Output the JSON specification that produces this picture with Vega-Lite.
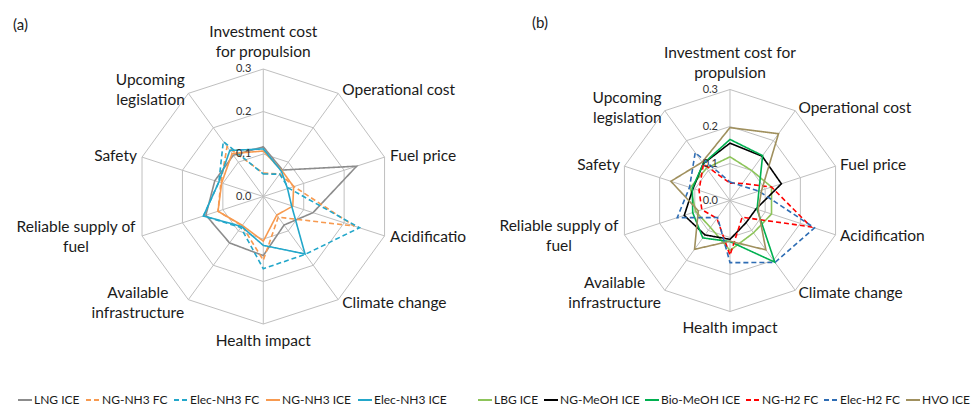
{
  "$schema": "https://vega.github.io/schema/vega-lite/v6.json",
  "padding": 0,
  "spacing": 0,
  "bounds": "flush",
  "config": {"view": {"stroke": null}, "font": "Lato", "title": {"font": "Lato", "fontWeight": "normal", "color": "#1a1a1a"}},
  "datasets": {
    "grid": [
      {"ring": 0.1, "axis": 0}, {"ring": 0.1, "axis": 1}, {"ring": 0.1, "axis": 2}, {"ring": 0.1, "axis": 3}, {"ring": 0.1, "axis": 4},
      {"ring": 0.1, "axis": 5}, {"ring": 0.1, "axis": 6}, {"ring": 0.1, "axis": 7}, {"ring": 0.1, "axis": 8}, {"ring": 0.1, "axis": 9},
      {"ring": 0.2, "axis": 0}, {"ring": 0.2, "axis": 1}, {"ring": 0.2, "axis": 2}, {"ring": 0.2, "axis": 3}, {"ring": 0.2, "axis": 4},
      {"ring": 0.2, "axis": 5}, {"ring": 0.2, "axis": 6}, {"ring": 0.2, "axis": 7}, {"ring": 0.2, "axis": 8}, {"ring": 0.2, "axis": 9},
      {"ring": 0.3, "axis": 0}, {"ring": 0.3, "axis": 1}, {"ring": 0.3, "axis": 2}, {"ring": 0.3, "axis": 3}, {"ring": 0.3, "axis": 4},
      {"ring": 0.3, "axis": 5}, {"ring": 0.3, "axis": 6}, {"ring": 0.3, "axis": 7}, {"ring": 0.3, "axis": 8}, {"ring": 0.3, "axis": 9}
    ],
    "ticks": [{"tick": "0.0", "ring": 0}, {"tick": "0.1", "ring": 0.1}, {"tick": "0.2", "ring": 0.2}, {"tick": "0.3", "ring": 0.3}],
    "labA": [
      {"axis": 0, "label": "Investment cost\nfor propulsion"},
      {"axis": 1, "label": "Operational cost"},
      {"axis": 2, "label": "Fuel price"},
      {"axis": 3, "label": "Acidificatio"},
      {"axis": 4, "label": "Climate change"},
      {"axis": 5, "label": "Health impact"},
      {"axis": 6, "label": "Available\ninfrastructure"},
      {"axis": 7, "label": "Reliable supply of\nfuel"},
      {"axis": 8, "label": "Safety"},
      {"axis": 9, "label": "Upcoming\nlegislation"}
    ],
    "labB": [
      {"axis": 0, "label": "Investment cost for\npropulsion"},
      {"axis": 1, "label": "Operational cost"},
      {"axis": 2, "label": "Fuel price"},
      {"axis": 3, "label": "Acidification"},
      {"axis": 4, "label": "Climate change"},
      {"axis": 5, "label": "Health impact"},
      {"axis": 6, "label": "Available\ninfrastructure"},
      {"axis": 7, "label": "Reliable supply of\nfuel"},
      {"axis": 8, "label": "Safety"},
      {"axis": 9, "label": "Upcoming\nlegislation"}
    ],
    "a": [
      {"fuel": "LNG ICE", "axis": 0, "score": 0.117}, {"fuel": "LNG ICE", "axis": 1, "score": 0.077}, {"fuel": "LNG ICE", "axis": 2, "score": 0.231}, {"fuel": "LNG ICE", "axis": 3, "score": 0.123}, {"fuel": "LNG ICE", "axis": 4, "score": 0.083},
      {"fuel": "LNG ICE", "axis": 5, "score": 0.139}, {"fuel": "LNG ICE", "axis": 6, "score": 0.135}, {"fuel": "LNG ICE", "axis": 7, "score": 0.142}, {"fuel": "LNG ICE", "axis": 8, "score": 0.12}, {"fuel": "LNG ICE", "axis": 9, "score": 0.12},
      {"fuel": "NG-NH3 FC", "axis": 0, "score": 0.055}, {"fuel": "NG-NH3 FC", "axis": 1, "score": 0.066}, {"fuel": "NG-NH3 FC", "axis": 2, "score": 0.076}, {"fuel": "NG-NH3 FC", "axis": 3, "score": 0.225}, {"fuel": "NG-NH3 FC", "axis": 4, "score": 0.06},
      {"fuel": "NG-NH3 FC", "axis": 5, "score": 0.15}, {"fuel": "NG-NH3 FC", "axis": 6, "score": 0.085}, {"fuel": "NG-NH3 FC", "axis": 7, "score": 0.112}, {"fuel": "NG-NH3 FC", "axis": 8, "score": 0.105}, {"fuel": "NG-NH3 FC", "axis": 9, "score": 0.145},
      {"fuel": "Elec-NH3 FC", "axis": 0, "score": 0.053}, {"fuel": "Elec-NH3 FC", "axis": 1, "score": 0.065}, {"fuel": "Elec-NH3 FC", "axis": 2, "score": 0.063}, {"fuel": "Elec-NH3 FC", "axis": 3, "score": 0.238}, {"fuel": "Elec-NH3 FC", "axis": 4, "score": 0.168},
      {"fuel": "Elec-NH3 FC", "axis": 5, "score": 0.17}, {"fuel": "Elec-NH3 FC", "axis": 6, "score": 0.09}, {"fuel": "Elec-NH3 FC", "axis": 7, "score": 0.148}, {"fuel": "Elec-NH3 FC", "axis": 8, "score": 0.11}, {"fuel": "Elec-NH3 FC", "axis": 9, "score": 0.16},
      {"fuel": "NG-NH3 ICE", "axis": 0, "score": 0.107}, {"fuel": "NG-NH3 ICE", "axis": 1, "score": 0.075}, {"fuel": "NG-NH3 ICE", "axis": 2, "score": 0.075}, {"fuel": "NG-NH3 ICE", "axis": 3, "score": 0.073}, {"fuel": "NG-NH3 ICE", "axis": 4, "score": 0.054},
      {"fuel": "NG-NH3 ICE", "axis": 5, "score": 0.105}, {"fuel": "NG-NH3 ICE", "axis": 6, "score": 0.084}, {"fuel": "NG-NH3 ICE", "axis": 7, "score": 0.112}, {"fuel": "NG-NH3 ICE", "axis": 8, "score": 0.103}, {"fuel": "NG-NH3 ICE", "axis": 9, "score": 0.125},
      {"fuel": "Elec-NH3 ICE", "axis": 0, "score": 0.112}, {"fuel": "Elec-NH3 ICE", "axis": 1, "score": 0.073}, {"fuel": "Elec-NH3 ICE", "axis": 2, "score": 0.06}, {"fuel": "Elec-NH3 ICE", "axis": 3, "score": 0.07}, {"fuel": "Elec-NH3 ICE", "axis": 4, "score": 0.167},
      {"fuel": "Elec-NH3 ICE", "axis": 5, "score": 0.115}, {"fuel": "Elec-NH3 ICE", "axis": 6, "score": 0.087}, {"fuel": "Elec-NH3 ICE", "axis": 7, "score": 0.148}, {"fuel": "Elec-NH3 ICE", "axis": 8, "score": 0.11}, {"fuel": "Elec-NH3 ICE", "axis": 9, "score": 0.134}
    ],
    "b": [
      {"fuel": "LBG ICE", "axis": 0, "score": 0.118}, {"fuel": "LBG ICE", "axis": 1, "score": 0.1}, {"fuel": "LBG ICE", "axis": 2, "score": 0.118}, {"fuel": "LBG ICE", "axis": 3, "score": 0.118}, {"fuel": "LBG ICE", "axis": 4, "score": 0.108},
      {"fuel": "LBG ICE", "axis": 5, "score": 0.135}, {"fuel": "LBG ICE", "axis": 6, "score": 0.09}, {"fuel": "LBG ICE", "axis": 7, "score": 0.097}, {"fuel": "LBG ICE", "axis": 8, "score": 0.113}, {"fuel": "LBG ICE", "axis": 9, "score": 0.108},
      {"fuel": "NG-MeOH ICE", "axis": 0, "score": 0.155}, {"fuel": "NG-MeOH ICE", "axis": 1, "score": 0.148}, {"fuel": "NG-MeOH ICE", "axis": 2, "score": 0.146}, {"fuel": "NG-MeOH ICE", "axis": 3, "score": 0.074}, {"fuel": "NG-MeOH ICE", "axis": 4, "score": 0.074},
      {"fuel": "NG-MeOH ICE", "axis": 5, "score": 0.105}, {"fuel": "NG-MeOH ICE", "axis": 6, "score": 0.115}, {"fuel": "NG-MeOH ICE", "axis": 7, "score": 0.13}, {"fuel": "NG-MeOH ICE", "axis": 8, "score": 0.105}, {"fuel": "NG-MeOH ICE", "axis": 9, "score": 0.123},
      {"fuel": "Bio-MeOH ICE", "axis": 0, "score": 0.165}, {"fuel": "Bio-MeOH ICE", "axis": 1, "score": 0.15}, {"fuel": "Bio-MeOH ICE", "axis": 2, "score": 0.082}, {"fuel": "Bio-MeOH ICE", "axis": 3, "score": 0.077}, {"fuel": "Bio-MeOH ICE", "axis": 4, "score": 0.206},
      {"fuel": "Bio-MeOH ICE", "axis": 5, "score": 0.111}, {"fuel": "Bio-MeOH ICE", "axis": 6, "score": 0.125}, {"fuel": "Bio-MeOH ICE", "axis": 7, "score": 0.106}, {"fuel": "Bio-MeOH ICE", "axis": 8, "score": 0.107}, {"fuel": "Bio-MeOH ICE", "axis": 9, "score": 0.123},
      {"fuel": "NG-H2 FC", "axis": 0, "score": 0.047}, {"fuel": "NG-H2 FC", "axis": 1, "score": 0.057}, {"fuel": "NG-H2 FC", "axis": 2, "score": 0.118}, {"fuel": "NG-H2 FC", "axis": 3, "score": 0.23}, {"fuel": "NG-H2 FC", "axis": 4, "score": 0.056},
      {"fuel": "NG-H2 FC", "axis": 5, "score": 0.148}, {"fuel": "NG-H2 FC", "axis": 6, "score": 0.06}, {"fuel": "NG-H2 FC", "axis": 7, "score": 0.08}, {"fuel": "NG-H2 FC", "axis": 8, "score": 0.088}, {"fuel": "NG-H2 FC", "axis": 9, "score": 0.122},
      {"fuel": "Elec-H2 FC", "axis": 0, "score": 0.05}, {"fuel": "Elec-H2 FC", "axis": 1, "score": 0.05}, {"fuel": "Elec-H2 FC", "axis": 2, "score": 0.082}, {"fuel": "Elec-H2 FC", "axis": 3, "score": 0.24}, {"fuel": "Elec-H2 FC", "axis": 4, "score": 0.207},
      {"fuel": "Elec-H2 FC", "axis": 5, "score": 0.168}, {"fuel": "Elec-H2 FC", "axis": 6, "score": 0.057}, {"fuel": "Elec-H2 FC", "axis": 7, "score": 0.15}, {"fuel": "Elec-H2 FC", "axis": 8, "score": 0.115}, {"fuel": "Elec-H2 FC", "axis": 9, "score": 0.16},
      {"fuel": "HVO ICE", "axis": 0, "score": 0.197}, {"fuel": "HVO ICE", "axis": 1, "score": 0.223}, {"fuel": "HVO ICE", "axis": 2, "score": 0.09}, {"fuel": "HVO ICE", "axis": 3, "score": 0.08}, {"fuel": "HVO ICE", "axis": 4, "score": 0.165},
      {"fuel": "HVO ICE", "axis": 5, "score": 0.11}, {"fuel": "HVO ICE", "axis": 6, "score": 0.163}, {"fuel": "HVO ICE", "axis": 7, "score": 0.09}, {"fuel": "HVO ICE", "axis": 8, "score": 0.168}, {"fuel": "HVO ICE", "axis": 9, "score": 0.128}
    ]
  },
  "hconcat": [
    {
      "width": 480,
      "height": 406,
      "title": {"text": "(a)", "anchor": "start", "frame": "group", "orient": "top", "offset": 0, "baseline": "middle", "fontSize": 15, "dx": 13, "dy": 40},
      "layer": [
        {
          "data": {"name": "grid"},
          "transform": [
            {"calculate": "datum.ring*sin(datum.axis*PI/5)", "as": "gx"},
            {"calculate": "datum.ring*cos(datum.axis*PI/5)", "as": "gy"}
          ],
          "mark": {"type": "line", "interpolate": "linear-closed", "stroke": "#BFBFBF", "strokeWidth": 1},
          "encoding": {
            "x": {"field": "gx", "type": "quantitative", "scale": {"domain": [-0.6195, 0.5099], "nice": false, "zero": false}, "axis": null},
            "y": {"field": "gy", "type": "quantitative", "scale": {"domain": [-0.4929, 0.4624], "nice": false, "zero": false}, "axis": null},
            "detail": {"field": "ring", "type": "nominal"},
            "order": {"field": "axis", "type": "quantitative"}
          }
        },
        {
          "data": {"name": "grid"},
          "transform": [
            {"filter": "datum.ring == 0.3"},
            {"calculate": "datum.ring*sin(datum.axis*PI/5)", "as": "gx"},
            {"calculate": "datum.ring*cos(datum.axis*PI/5)", "as": "gy"}
          ],
          "mark": {"type": "rule", "stroke": "#BFBFBF", "strokeWidth": 1},
          "encoding": {
            "x": {"field": "gx", "type": "quantitative"},
            "y": {"field": "gy", "type": "quantitative"},
            "x2": {"datum": 0},
            "y2": {"datum": 0}
          }
        },
        {
          "data": {"name": "a"},
          "transform": [
            {"calculate": "datum.score*sin(datum.axis*PI/5)", "as": "px"},
            {"calculate": "datum.score*cos(datum.axis*PI/5)", "as": "py"}
          ],
          "mark": {"type": "line", "interpolate": "linear-closed", "strokeWidth": 1.6},
          "encoding": {
            "x": {"field": "px", "type": "quantitative"},
            "y": {"field": "py", "type": "quantitative"},
            "order": {"field": "axis", "type": "quantitative"},
            "color": {
              "field": "fuel", "type": "nominal",
              "scale": {"domain": ["LNG ICE", "NG-NH3 FC", "Elec-NH3 FC", "NG-NH3 ICE", "Elec-NH3 ICE"], "range": ["#8C8C8C", "#F79A50", "#23A7CA", "#F79A50", "#23A7CA"]},
              "legend": {"orient": "none", "legendX": 17, "legendY": 392, "direction": "horizontal", "title": null, "symbolType": "stroke", "symbolSize": 196, "symbolStrokeWidth": 2, "labelFontSize": 12, "labelFont": "Lato", "labelColor": "#1a1a1a", "labelOffset": 1, "columnPadding": 2, "padding": 0, "labelLimit": 0}
            },
            "strokeDash": {
              "field": "fuel", "type": "nominal",
              "scale": {"domain": ["LNG ICE", "NG-NH3 FC", "Elec-NH3 FC", "NG-NH3 ICE", "Elec-NH3 ICE"], "range": [[1, 0], [5, 3], [5, 3], [1, 0], [1, 0]]},
              "legend": {"orient": "none", "legendX": 17, "legendY": 392, "direction": "horizontal", "title": null, "symbolType": "stroke", "symbolSize": 196, "symbolStrokeWidth": 2, "labelFontSize": 12, "labelFont": "Lato", "labelColor": "#1a1a1a", "labelOffset": 1, "columnPadding": 2, "padding": 0, "labelLimit": 0}
            }
          }
        },
        {
          "data": {"name": "ticks"},
          "mark": {"type": "text", "align": "right", "baseline": "middle", "dx": -12, "fontSize": 11, "color": "#333333"},
          "encoding": {
            "x": {"datum": 0, "type": "quantitative"},
            "y": {"field": "ring", "type": "quantitative"},
            "text": {"field": "tick"}
          }
        },
        {
          "data": {"name": "labA"},
          "transform": [
            {"filter": "datum.axis == 0"},
            {"calculate": "0.3*sin(datum.axis*PI/5)", "as": "lx"},
            {"calculate": "0.3*cos(datum.axis*PI/5)", "as": "ly"}
          ],
          "mark": {"type": "text", "align": "center", "baseline": "middle", "dy": -37, "fontSize": 15.5, "lineBreak": "\n", "lineHeight": 20, "color": "#1a1a1a"},
          "encoding": {"x": {"field": "lx", "type": "quantitative"}, "y": {"field": "ly", "type": "quantitative"}, "text": {"field": "label"}}
        },
        {
          "data": {"name": "labA"},
          "transform": [
            {"filter": "datum.axis == 5"},
            {"calculate": "0.3*sin(datum.axis*PI/5)", "as": "lx"},
            {"calculate": "0.3*cos(datum.axis*PI/5)", "as": "ly"}
          ],
          "mark": {"type": "text", "align": "center", "baseline": "middle", "dy": 17, "fontSize": 15.5, "color": "#1a1a1a"},
          "encoding": {"x": {"field": "lx", "type": "quantitative"}, "y": {"field": "ly", "type": "quantitative"}, "text": {"field": "label"}}
        },
        {
          "data": {"name": "labA"},
          "transform": [
            {"filter": "datum.axis >= 1 && datum.axis <= 4"},
            {"calculate": "0.31*sin(datum.axis*PI/5)", "as": "lx"},
            {"calculate": "0.31*cos(datum.axis*PI/5)", "as": "ly"}
          ],
          "mark": {"type": "text", "align": "left", "baseline": "middle", "dx": 1.5, "fontSize": 15.5, "color": "#1a1a1a"},
          "encoding": {"x": {"field": "lx", "type": "quantitative"}, "y": {"field": "ly", "type": "quantitative"}, "text": {"field": "label"}}
        },
        {
          "data": {"name": "labA"},
          "transform": [
            {"filter": "datum.axis == 8"},
            {"calculate": "0.31*sin(datum.axis*PI/5)", "as": "lx"},
            {"calculate": "0.31*cos(datum.axis*PI/5)", "as": "ly"}
          ],
          "mark": {"type": "text", "align": "right", "baseline": "middle", "dx": -1, "fontSize": 15.5, "color": "#1a1a1a"},
          "encoding": {"x": {"field": "lx", "type": "quantitative"}, "y": {"field": "ly", "type": "quantitative"}, "text": {"field": "label"}}
        },
        {
          "data": {"name": "labA"},
          "transform": [
            {"filter": "datum.axis == 9"},
            {"calculate": "0.31*sin(datum.axis*PI/5)", "as": "lx"},
            {"calculate": "0.31*cos(datum.axis*PI/5)", "as": "ly"}
          ],
          "mark": {"type": "text", "align": "right", "baseline": "middle", "dx": -1, "dy": -10, "fontSize": 15.5, "lineBreak": "\n", "lineHeight": 20, "color": "#1a1a1a"},
          "encoding": {"x": {"field": "lx", "type": "quantitative"}, "y": {"field": "ly", "type": "quantitative"}, "text": {"field": "label"}}
        },
        {
          "data": {"name": "labA"},
          "transform": [
            {"filter": "datum.axis == 6"},
            {"calculate": "0.31*sin(datum.axis*PI/5)", "as": "lx"},
            {"calculate": "0.31*cos(datum.axis*PI/5)", "as": "ly"}
          ],
          "mark": {"type": "text", "align": "center", "baseline": "middle", "dx": -48, "dy": -10, "fontSize": 15.5, "lineBreak": "\n", "lineHeight": 20, "color": "#1a1a1a"},
          "encoding": {"x": {"field": "lx", "type": "quantitative"}, "y": {"field": "ly", "type": "quantitative"}, "text": {"field": "label"}}
        },
        {
          "data": {"name": "labA"},
          "transform": [
            {"filter": "datum.axis == 7"},
            {"calculate": "0.31*sin(datum.axis*PI/5)", "as": "lx"},
            {"calculate": "0.31*cos(datum.axis*PI/5)", "as": "ly"}
          ],
          "mark": {"type": "text", "align": "center", "baseline": "middle", "dx": -62, "dy": -10, "fontSize": 15.5, "lineBreak": "\n", "lineHeight": 20, "color": "#1a1a1a"},
          "encoding": {"x": {"field": "lx", "type": "quantitative"}, "y": {"field": "ly", "type": "quantitative"}, "text": {"field": "label"}}
        }
      ]
    },
    {
      "width": 498,
      "height": 406,
      "title": {"text": "(b)", "anchor": "start", "frame": "group", "orient": "top", "offset": 0, "baseline": "middle", "fontSize": 15, "dx": 52, "dy": 38},
      "layer": [
        {
          "data": {"name": "grid"},
          "transform": [
            {"calculate": "datum.ring*sin(datum.axis*PI/5)", "as": "gx"},
            {"calculate": "datum.ring*cos(datum.axis*PI/5)", "as": "gy"}
          ],
          "mark": {"type": "line", "interpolate": "linear-closed", "stroke": "#BFBFBF", "strokeWidth": 1},
          "encoding": {
            "x": {"field": "gx", "type": "quantitative", "scale": {"domain": [-0.6757, 0.6703], "nice": false, "zero": false}, "axis": null},
            "y": {"field": "gy", "type": "quantitative", "scale": {"domain": [-0.5554, 0.5419], "nice": false, "zero": false}, "axis": null},
            "detail": {"field": "ring", "type": "nominal"},
            "order": {"field": "axis", "type": "quantitative"}
          }
        },
        {
          "data": {"name": "grid"},
          "transform": [
            {"filter": "datum.ring == 0.3"},
            {"calculate": "datum.ring*sin(datum.axis*PI/5)", "as": "gx"},
            {"calculate": "datum.ring*cos(datum.axis*PI/5)", "as": "gy"}
          ],
          "mark": {"type": "rule", "stroke": "#BFBFBF", "strokeWidth": 1},
          "encoding": {
            "x": {"field": "gx", "type": "quantitative"},
            "y": {"field": "gy", "type": "quantitative"},
            "x2": {"datum": 0},
            "y2": {"datum": 0}
          }
        },
        {
          "data": {"name": "b"},
          "transform": [
            {"calculate": "datum.score*sin(datum.axis*PI/5)", "as": "px"},
            {"calculate": "datum.score*cos(datum.axis*PI/5)", "as": "py"}
          ],
          "mark": {"type": "line", "interpolate": "linear-closed", "strokeWidth": 1.6},
          "encoding": {
            "x": {"field": "px", "type": "quantitative"},
            "y": {"field": "py", "type": "quantitative"},
            "order": {"field": "axis", "type": "quantitative"},
            "color": {
              "field": "fuel", "type": "nominal",
              "scale": {"domain": ["LBG ICE", "NG-MeOH ICE", "Bio-MeOH ICE", "NG-H2 FC", "Elec-H2 FC", "HVO ICE"], "range": ["#8DC45A", "#000000", "#00B050", "#FF0000", "#2E6DB4", "#A0905E"]},
              "legend": {"orient": "none", "legendX": -3, "legendY": 392, "direction": "horizontal", "title": null, "symbolType": "stroke", "symbolSize": 196, "symbolStrokeWidth": 2, "labelFontSize": 12, "labelFont": "Lato", "labelColor": "#1a1a1a", "labelOffset": 1, "columnPadding": 1, "padding": 0, "labelLimit": 0}
            },
            "strokeDash": {
              "field": "fuel", "type": "nominal",
              "scale": {"domain": ["LBG ICE", "NG-MeOH ICE", "Bio-MeOH ICE", "NG-H2 FC", "Elec-H2 FC", "HVO ICE"], "range": [[1, 0], [1, 0], [1, 0], [5, 3], [5, 3], [1, 0]]},
              "legend": {"orient": "none", "legendX": -3, "legendY": 392, "direction": "horizontal", "title": null, "symbolType": "stroke", "symbolSize": 196, "symbolStrokeWidth": 2, "labelFontSize": 12, "labelFont": "Lato", "labelColor": "#1a1a1a", "labelOffset": 1, "columnPadding": 1, "padding": 0, "labelLimit": 0}
            }
          }
        },
        {
          "data": {"name": "ticks"},
          "mark": {"type": "text", "align": "right", "baseline": "middle", "dx": -12, "fontSize": 11, "color": "#333333"},
          "encoding": {
            "x": {"datum": 0, "type": "quantitative"},
            "y": {"field": "ring", "type": "quantitative"},
            "text": {"field": "tick"}
          }
        },
        {
          "data": {"name": "labB"},
          "transform": [
            {"filter": "datum.axis == 0"},
            {"calculate": "0.3*sin(datum.axis*PI/5)", "as": "lx"},
            {"calculate": "0.3*cos(datum.axis*PI/5)", "as": "ly"}
          ],
          "mark": {"type": "text", "align": "center", "baseline": "middle", "dy": -37, "fontSize": 15.5, "lineBreak": "\n", "lineHeight": 20, "color": "#1a1a1a"},
          "encoding": {"x": {"field": "lx", "type": "quantitative"}, "y": {"field": "ly", "type": "quantitative"}, "text": {"field": "label"}}
        },
        {
          "data": {"name": "labB"},
          "transform": [
            {"filter": "datum.axis == 5"},
            {"calculate": "0.3*sin(datum.axis*PI/5)", "as": "lx"},
            {"calculate": "0.3*cos(datum.axis*PI/5)", "as": "ly"}
          ],
          "mark": {"type": "text", "align": "center", "baseline": "middle", "dy": 16, "fontSize": 15.5, "color": "#1a1a1a"},
          "encoding": {"x": {"field": "lx", "type": "quantitative"}, "y": {"field": "ly", "type": "quantitative"}, "text": {"field": "label"}}
        },
        {
          "data": {"name": "labB"},
          "transform": [
            {"filter": "datum.axis >= 1 && datum.axis <= 4"},
            {"calculate": "0.31*sin(datum.axis*PI/5)", "as": "lx"},
            {"calculate": "0.31*cos(datum.axis*PI/5)", "as": "ly"}
          ],
          "mark": {"type": "text", "align": "left", "baseline": "middle", "dx": 1, "fontSize": 15.5, "color": "#1a1a1a"},
          "encoding": {"x": {"field": "lx", "type": "quantitative"}, "y": {"field": "ly", "type": "quantitative"}, "text": {"field": "label"}}
        },
        {
          "data": {"name": "labB"},
          "transform": [
            {"filter": "datum.axis == 8"},
            {"calculate": "0.31*sin(datum.axis*PI/5)", "as": "lx"},
            {"calculate": "0.31*cos(datum.axis*PI/5)", "as": "ly"}
          ],
          "mark": {"type": "text", "align": "right", "baseline": "middle", "dx": -1, "fontSize": 15.5, "color": "#1a1a1a"},
          "encoding": {"x": {"field": "lx", "type": "quantitative"}, "y": {"field": "ly", "type": "quantitative"}, "text": {"field": "label"}}
        },
        {
          "data": {"name": "labB"},
          "transform": [
            {"filter": "datum.axis == 9"},
            {"calculate": "0.31*sin(datum.axis*PI/5)", "as": "lx"},
            {"calculate": "0.31*cos(datum.axis*PI/5)", "as": "ly"}
          ],
          "mark": {"type": "text", "align": "right", "baseline": "middle", "dx": -1, "dy": -10, "fontSize": 15.5, "lineBreak": "\n", "lineHeight": 20, "color": "#1a1a1a"},
          "encoding": {"x": {"field": "lx", "type": "quantitative"}, "y": {"field": "ly", "type": "quantitative"}, "text": {"field": "label"}}
        },
        {
          "data": {"name": "labB"},
          "transform": [
            {"filter": "datum.axis == 6"},
            {"calculate": "0.31*sin(datum.axis*PI/5)", "as": "lx"},
            {"calculate": "0.31*cos(datum.axis*PI/5)", "as": "ly"}
          ],
          "mark": {"type": "text", "align": "center", "baseline": "middle", "dx": -48, "dy": -10, "fontSize": 15.5, "lineBreak": "\n", "lineHeight": 20, "color": "#1a1a1a"},
          "encoding": {"x": {"field": "lx", "type": "quantitative"}, "y": {"field": "ly", "type": "quantitative"}, "text": {"field": "label"}}
        },
        {
          "data": {"name": "labB"},
          "transform": [
            {"filter": "datum.axis == 7"},
            {"calculate": "0.31*sin(datum.axis*PI/5)", "as": "lx"},
            {"calculate": "0.31*cos(datum.axis*PI/5)", "as": "ly"}
          ],
          "mark": {"type": "text", "align": "center", "baseline": "middle", "dx": -62, "dy": -10, "fontSize": 15.5, "lineBreak": "\n", "lineHeight": 20, "color": "#1a1a1a"},
          "encoding": {"x": {"field": "lx", "type": "quantitative"}, "y": {"field": "ly", "type": "quantitative"}, "text": {"field": "label"}}
        }
      ]
    }
  ],
  "resolve": {
    "scale": {"x": "independent", "y": "independent", "color": "independent", "strokeDash": "independent"},
    "legend": {"color": "independent", "strokeDash": "independent"}
  }
}
